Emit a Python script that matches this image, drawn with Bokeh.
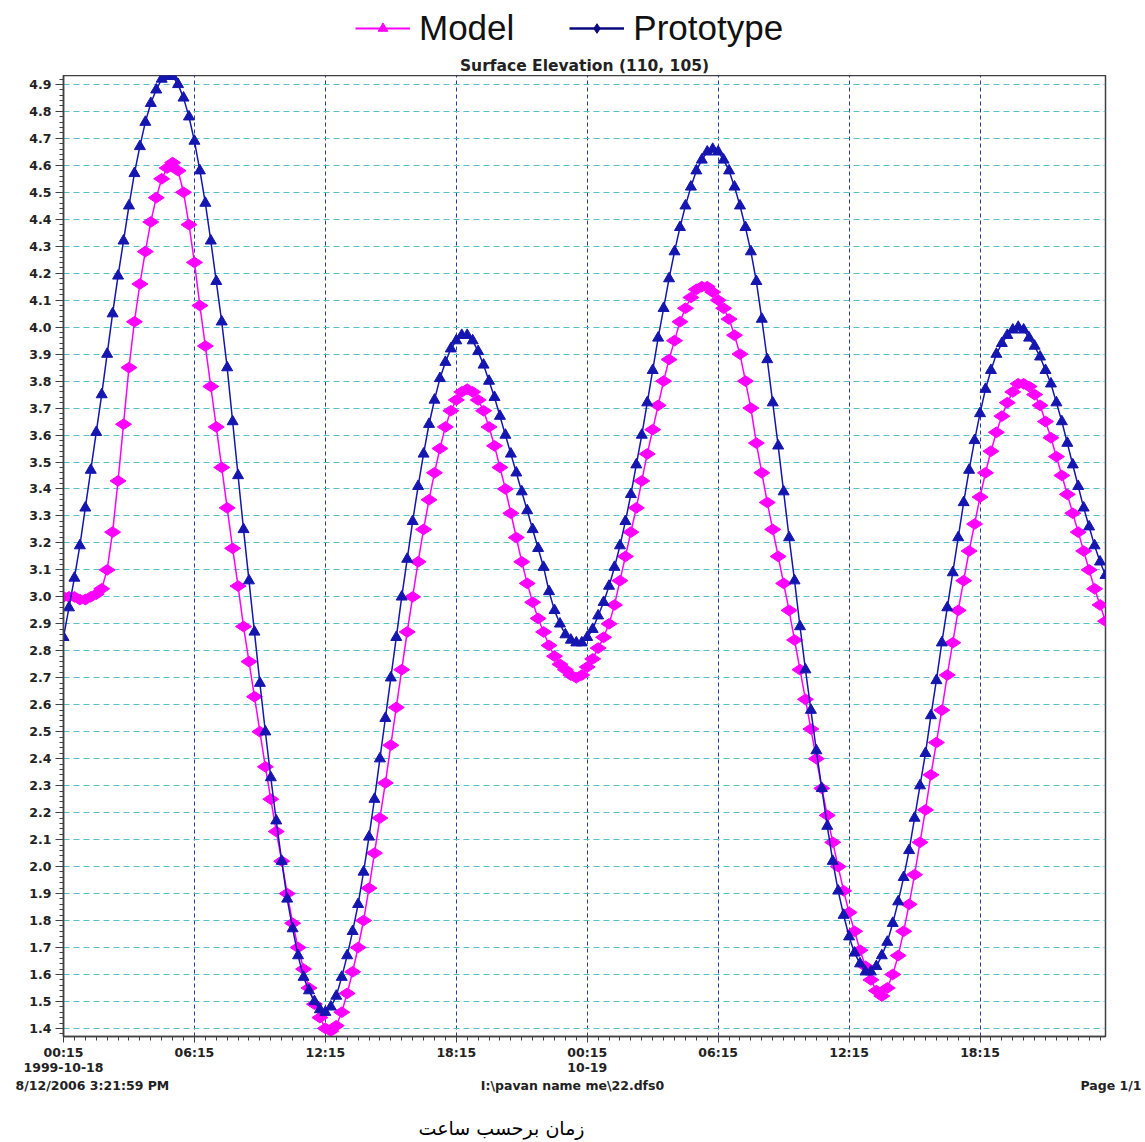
from bokeh.plotting import figure
from bokeh.models import (Range1d, FixedTicker, PrintfTickFormatter, Label,
                          Legend, LegendItem)
from bokeh.layouts import column
from bokeh.embed import file_html
from bokeh.resources import INLINE

# ---------------- data (15-minute samples, hours from 1999-10-18 00:00) ----------------
prototype = [
    2.85, 2.96, 3.07, 3.19, 3.33, 3.47, 3.61, 3.75, 3.90, 4.05,
    4.19, 4.32, 4.45, 4.57, 4.67, 4.76, 4.83, 4.88, 4.92, 4.93,
    4.93, 4.90, 4.85, 4.78, 4.69, 4.58, 4.46, 4.32, 4.17, 4.02,
    3.85, 3.65, 3.45, 3.25, 3.06, 2.87, 2.68, 2.50, 2.33, 2.17,
    2.02, 1.88, 1.77, 1.67, 1.59, 1.54, 1.50, 1.47, 1.46, 1.48,
    1.52, 1.59, 1.67, 1.76, 1.86, 1.98, 2.11, 2.25, 2.40, 2.55,
    2.70, 2.85, 3.00, 3.14, 3.28, 3.41, 3.53, 3.64, 3.73, 3.81,
    3.87, 3.92, 3.95, 3.97, 3.97, 3.95, 3.91, 3.86, 3.80, 3.74,
    3.67, 3.60, 3.53, 3.46, 3.39, 3.32, 3.25, 3.18, 3.11, 3.02,
    2.95, 2.90, 2.86, 2.84, 2.83, 2.83, 2.85, 2.88, 2.93, 2.98,
    3.04, 3.11, 3.19, 3.28, 3.38, 3.49, 3.60, 3.72, 3.84, 3.96,
    4.07, 4.18, 4.28, 4.37, 4.45, 4.52, 4.58, 4.62, 4.65, 4.66,
    4.65, 4.62, 4.58, 4.52, 4.45, 4.37, 4.28, 4.17, 4.03, 3.88,
    3.72, 3.56, 3.39, 3.22, 3.06, 2.89, 2.73, 2.58, 2.43, 2.29,
    2.15, 2.02, 1.91, 1.82, 1.74, 1.68, 1.64, 1.61, 1.61, 1.63,
    1.67, 1.72, 1.79, 1.87, 1.96, 2.06, 2.18, 2.30, 2.42, 2.56,
    2.69, 2.83, 2.96, 3.09, 3.22, 3.35, 3.47, 3.58, 3.68, 3.77,
    3.84, 3.90, 3.94, 3.97, 3.99, 4.00, 3.99, 3.96, 3.93, 3.89,
    3.84, 3.79, 3.72, 3.65, 3.57, 3.49, 3.41, 3.33, 3.26, 3.19,
    3.13, 3.08,
]

model = [
    3.00, 3.00, 3.00, 2.99, 2.99, 3.00, 3.01, 3.03, 3.10, 3.24,
    3.43, 3.64, 3.85, 4.02, 4.16, 4.28, 4.39, 4.48, 4.55, 4.59,
    4.61, 4.58, 4.50, 4.38, 4.24, 4.08, 3.93, 3.78, 3.63, 3.48,
    3.33, 3.18, 3.04, 2.89, 2.76, 2.63, 2.50, 2.37, 2.25, 2.13,
    2.02, 1.90, 1.79, 1.70, 1.62, 1.55, 1.49, 1.44, 1.40, 1.39,
    1.41, 1.46, 1.53, 1.61, 1.70, 1.80, 1.92, 2.05, 2.18, 2.31,
    2.45, 2.59, 2.73, 2.87, 3.00, 3.13, 3.25, 3.36, 3.46, 3.55,
    3.63, 3.69, 3.73, 3.76, 3.77, 3.76, 3.73, 3.69, 3.63, 3.56,
    3.48, 3.40, 3.31, 3.22, 3.13, 3.05, 2.98, 2.92, 2.87, 2.82,
    2.78, 2.75, 2.73, 2.71, 2.70, 2.71, 2.74, 2.77, 2.81, 2.85,
    2.90, 2.97, 3.06, 3.15, 3.24, 3.33, 3.43, 3.53, 3.62, 3.71,
    3.80, 3.88, 3.95, 4.02, 4.07, 4.11, 4.14, 4.15, 4.15, 4.13,
    4.10, 4.07, 4.03, 3.97, 3.90, 3.80, 3.70, 3.57, 3.46, 3.35,
    3.25, 3.15, 3.05, 2.95, 2.84, 2.73, 2.62, 2.51, 2.40, 2.29,
    2.19, 2.09, 2.00, 1.91, 1.83, 1.76, 1.69, 1.63, 1.58, 1.54,
    1.52, 1.55, 1.60, 1.67, 1.76, 1.86, 1.97, 2.09, 2.21, 2.34,
    2.46, 2.58, 2.71, 2.83, 2.95, 3.06, 3.17, 3.27, 3.37, 3.46,
    3.54, 3.61, 3.67, 3.72, 3.76, 3.79, 3.79, 3.78, 3.75, 3.71,
    3.65, 3.59, 3.52, 3.45, 3.38, 3.31, 3.24, 3.17, 3.10, 3.03,
    2.97, 2.91,
]

time_h = [0.25 + 0.25 * i for i in range(len(prototype))]

x_tick_hours = [0.25, 6.25, 12.25, 18.25, 24.25, 30.25, 36.25, 42.25]
x_tick_labels = ["00:15\n1999-10-18", "06:15", "12:15", "18:15",
                 "00:15\n10-19", "06:15", "12:15", "18:15"]
x_minor_hours = [0.25 + 0.5 * k for k in range(96)]
y_ticks = [round(1.4 + 0.1 * k, 1) for k in range(36)]
y_minor = [round(1.38 + 0.02 * k, 2) for k in range(178)]

title_text = "Surface Elevation (110, 105)"
series_names = ["Model", "Prototype"]
footer_left = "8/12/2006 3:21:59 PM"
footer_mid = "I:\\pavan name me\\22.dfs0"
footer_right = "Page 1/1"
axis_caption = "زمان برحسب ساعت"

MAGENTA = "#ff00ff"
BLUE = "#1515b0"
NAVY = "#0a0a80"
W = 1145
FONT = "DejaVu Sans"


def strip(height):
    """A bare pixel-space strip (x: 0..W, y: 0 at top) for page texts."""
    s = figure(width=W, height=height, x_range=Range1d(0, W), y_range=Range1d(height, 0),
               output_backend="svg", toolbar_location=None,
               x_axis_type=None, y_axis_type=None, min_border=0,
               outline_line_color=None, frame_align=False)
    return s


# ---------------- legend / title strip ----------------
leg = strip(75)
# legend keys: series renderers whose data lie outside this strip's visible x range
lm1 = leg.line(time_h, model, line_color=MAGENTA, line_width=2)
lm2 = leg.scatter(time_h, model, marker="triangle", fill_color=MAGENTA, line_color=MAGENTA)
lp1 = leg.line(time_h, prototype, line_color=NAVY, line_width=2.5)
lp2 = leg.scatter(time_h, prototype, marker="diamond", fill_color=NAVY, line_color=NAVY)
leg.x_range = Range1d(100, 100 + W)
legend = Legend(items=[LegendItem(label=series_names[0], renderers=[lm1, lm2]),
                       LegendItem(label=series_names[1], renderers=[lp1, lp2])],
                orientation="horizontal", location=(355, 27),
                glyph_width=55, glyph_height=24, label_standoff=9, spacing=55,
                padding=0, margin=0, border_line_color=None,
                background_fill_alpha=0,
                label_text_font="Liberation Sans", label_text_font_size="35px",
                label_text_color="#111111")
leg.add_layout(legend)
leg.add_layout(Label(x=584, y=65.5, x_units="screen", text=title_text, text_align="center",
                     text_baseline="middle", text_font=FONT, text_font_style="bold",
                     text_font_size="15.5px", text_color="#222222"))

# ---------------- main chart ----------------
p = figure(width=W, height=1002, x_range=Range1d(0.25, 48.0),
           y_range=Range1d(1.370, 4.933),
           output_backend="svg", toolbar_location=None,
           min_border_left=63, min_border_right=40, min_border_top=0,
           min_border_bottom=40, frame_align=False)
p.outline_line_color = "#404040"
p.outline_line_width = 1.5
p.background_fill_color = "white"

p.xgrid.ticker = FixedTicker(ticks=x_tick_hours)
p.xgrid.grid_line_color = "#2a3a9c"
p.xgrid.grid_line_dash = "4 3"
p.xgrid.grid_line_width = 1
p.ygrid.ticker = FixedTicker(ticks=y_ticks)
p.ygrid.grid_line_color = "#55c0c8"
p.ygrid.grid_line_dash = "6 4"
p.ygrid.grid_line_width = 1

p.line(time_h, model, line_color=MAGENTA, line_width=1.5)
p.scatter(time_h, model, marker="diamond", size=16, angle=1.5708,
          fill_color=MAGENTA, line_color=MAGENTA)
p.line(time_h, prototype, line_color=BLUE, line_width=1.5)
p.scatter(time_h, prototype, marker="triangle", size=11,
          fill_color=BLUE, line_color=BLUE)

p.yaxis.ticker = FixedTicker(ticks=y_ticks, minor_ticks=y_minor)
p.yaxis.formatter = PrintfTickFormatter(format="%.1f")
p.xaxis.ticker = FixedTicker(ticks=x_tick_hours, minor_ticks=x_minor_hours)
p.xaxis.major_label_overrides = dict(zip(x_tick_hours, x_tick_labels))
for ax in (p.xaxis, p.yaxis):
    ax.axis_line_color = "#404040"
    ax.axis_line_width = 1.5
    ax.major_tick_line_color = "#404040"
    ax.minor_tick_line_color = "#404040"
    ax.major_tick_in = 0
    ax.minor_tick_in = 0
    ax.major_label_text_font = FONT
    ax.major_label_text_font_style = "bold"
    ax.major_label_text_color = "#222222"
p.yaxis.major_tick_out = 8
p.yaxis.minor_tick_out = 4
p.yaxis.major_label_standoff = 4
p.yaxis.major_label_text_font_size = "12.5px"
p.xaxis.major_tick_out = 6
p.xaxis.minor_tick_out = 4
p.xaxis.major_label_standoff = 2
p.xaxis.major_label_text_font_size = "12.5px"
p.xaxis.major_label_text_line_height = 1.0

# ---------------- footer strip ----------------
foot = strip(65)
for txt, xx, al in ((footer_left, 15, "left"), (footer_mid, 572, "center"),
                    (footer_right, 1141, "right")):
    foot.add_layout(Label(x=xx, y=7.5, text=txt, text_align=al, text_baseline="middle",
                          text_font=FONT, text_font_style="bold",
                          text_font_size="12.5px", text_color="#222222"))
foot.add_layout(Label(x=501, y=50, text=axis_caption, text_align="center",
                      text_baseline="middle", text_font=FONT,
                      text_font_size="19px", text_color="#000000"))

layout = column(leg, p, foot, spacing=0)
open("out.html", "w").write(file_html(layout, INLINE))
